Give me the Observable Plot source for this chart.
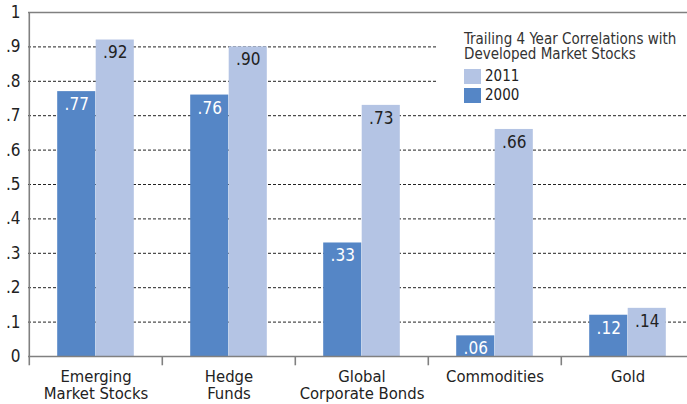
<!DOCTYPE html>
<html>
<head>
<meta charset="utf-8">
<script src="https://cdn.jsdelivr.net/npm/d3@7"></script>
<script src="https://cdn.jsdelivr.net/npm/@observablehq/plot@0.6"></script>
<style>
  html, body { margin: 0; padding: 0; background: #fff; }
  #wrap { position: relative; width: 687px; height: 404px; overflow: hidden; background: #fff;
          font-family: "DejaVu Sans Condensed", "DejaVu Sans", sans-serif; font-stretch: condensed; color: #333; }
  #wrap svg { max-width: none !important; }
  #legend { position: absolute; left: 437px; top: 20px; width: 250px; height: 92px; background: #fff; }
  #legend .t { position: absolute; left: 27px; top: 12px; font-size: 15px; line-height: 15px; white-space: pre; color: #333; }
  #legend .sw { position: absolute; left: 27px; width: 17px; height: 15px; }
  #legend .lb { position: absolute; left: 48px; font-size: 15px; line-height: 15px; color: #222; }
</style>
</head>
<body>
<div id="wrap"></div>
<script>
// ---- data ----
const categories = ["Emerging\nMarket Stocks", "Hedge\nFunds", "Global\nCorporate Bonds", "Commodities", "Gold"];
const seriesNames = ["2011", "2000"];
const values2000 = [0.77, 0.76, 0.33, 0.06, 0.12];
const values2011 = [0.92, 0.90, 0.73, 0.66, 0.14];
const yTicks = [0, 0.1, 0.2, 0.3, 0.4, 0.5, 0.6, 0.7, 0.8, 0.9, 1];
const yTickLabels = ["0", ".1", ".2", ".3", ".4", ".5", ".6", ".7", ".8", ".9", "1"];
const gridValues = [0.1, 0.2, 0.3, 0.4, 0.5, 0.6, 0.7, 0.8, 0.9];
const legendTitle = "Trailing 4 Year Correlations with\nDeveloped Market Stocks";
const color2000 = "#5586c6";
const color2011 = "#b4c4e4";

const fmt = v => "." + String(Math.round(v * 100)).padStart(2, "0");
const data2000 = categories.map((c, i) => ({category: c, value: values2000[i]}));
const data2011 = categories.map((c, i) => ({category: c, value: values2011[i]}));

const W = 695, H = 404, mL = 28, mR = 0, mT = 12, mB = 48;
const step = (W - mL - mR) / categories.length;
const barW = 38.5;
const axisColor = "#808080";

const chart = Plot.plot({
  width: W, height: H,
  marginLeft: mL, marginRight: mR, marginTop: mT, marginBottom: mB,
  style: {fontFamily: '"DejaVu Sans Condensed", "DejaVu Sans", sans-serif', fontSize: "17px", color: "#222", background: "#fff", fontStretch: "condensed", maxWidth: "none"},
  x: {domain: categories, padding: 0, axis: null},
  y: {domain: [0, 1], ticks: yTicks, tickFormat: d => yTickLabels[yTicks.indexOf(d)], tickSize: 0, tickPadding: 8, label: null},
  marks: [
    Plot.ruleY(gridValues, {stroke: "#222", strokeDasharray: "3,2", strokeWidth: 1}),
    Plot.barY(data2000, {x: "category", y: "value", fill: color2000, insetLeft: step / 2 - barW, insetRight: step / 2}),
    Plot.barY(data2011, {x: "category", y: "value", fill: color2011, insetLeft: step / 2, insetRight: step / 2 - barW}),
    Plot.ruleY([0, 1], {stroke: axisColor, strokeWidth: 1.6}),
    Plot.ruleX(categories, {x: d => d, dx: -step / 2, y1: 0, y2: -0.027, stroke: axisColor, strokeWidth: 1.6}),
    Plot.ruleX([categories[0]], {x: d => d, dx: -step / 2, y1: 1, y2: 0, stroke: axisColor, strokeWidth: 1.6}),
    Plot.text(data2000, {x: "category", y: "value", text: d => fmt(d.value), dx: -barW / 2, dy: 13, fill: "#fff", fontSize: 17}),
    Plot.text(data2011, {x: "category", y: "value", text: d => fmt(d.value), dx: barW / 2, dy: 13, fill: "#222", fontSize: 17}),
    Plot.text(categories, {x: d => d, text: d => d, frameAnchor: "bottom", lineAnchor: "top", dy: 13, fontSize: 16.5, lineHeight: 1.06, fill: "#222"})
  ]
});

const wrap = document.getElementById("wrap");
wrap.appendChild(chart);

// legend
const legend = document.createElement("div");
legend.id = "legend";
const t = document.createElement("div");
t.className = "t";
t.textContent = legendTitle;
legend.appendChild(t);
const legendColors = {"2011": color2011, "2000": color2000};
seriesNames.forEach((s, i) => {
  const sw = document.createElement("div");
  sw.className = "sw";
  sw.style.top = (49 + i * 19) + "px";
  sw.style.background = legendColors[s];
  legend.appendChild(sw);
  const lb = document.createElement("div");
  lb.className = "lb";
  lb.style.top = (49 + i * 19) + "px";
  lb.textContent = s;
  legend.appendChild(lb);
});
wrap.appendChild(legend);
</script>
</body>
</html>
